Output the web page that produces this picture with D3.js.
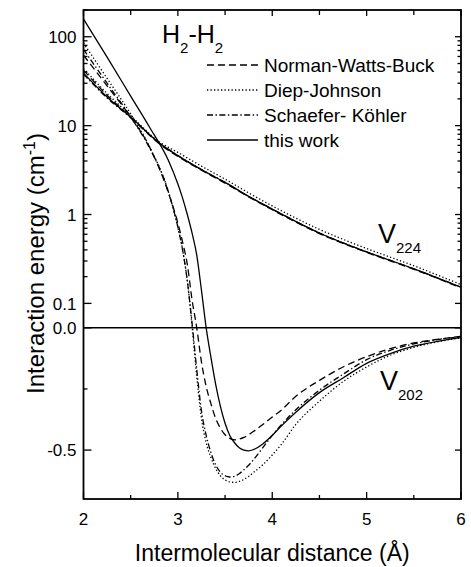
<!DOCTYPE html>
<html>
<head>
<meta charset="utf-8">
<script src="https://cdn.jsdelivr.net/npm/d3@7"></script>
<style>
  body { margin: 0; background: #fff; }
  svg { display: block; font-family: "Liberation Sans", Arial, Helvetica, sans-serif; }
</style>
</head>
<body>
<div id="chart"></div>
<script>
// values (energies in cm-1, distances in Angstrom)
const xTicks = [2, 3, 4, 5, 6];
const xMinorTicks = [2.5, 3.5, 4.5, 5.5];
const yLogTicks = [0.1, 1, 10, 100];
const yLogLabels = ["0.1", "1", "10", "100"];
const yLinTicks = [0, -0.5];
const yLinLabels = ["0.0", "-0.5"];
const yLinMinor = [-0.25];

const legendNames = ["Norman-Watts-Buck", "Diep-Johnson", "Schaefer- Köhler", "this work"];

// V224 anisotropy
const distV224 = [2, 2.25, 2.5, 2.8, 3, 3.25, 3.5, 3.75, 4, 4.5, 5, 5.5, 6];
const v224NWB = [42, 22, 12.5, 6.3, 4.5, 3.15, 2.25, 1.58, 1.13, 0.61, 0.375, 0.242, 0.15];
const v224DJ = [44, 23, 13, 6.6, 5.0, 3.5, 2.5, 1.75, 1.25, 0.68, 0.415, 0.265, 0.163];
const v224SK = [38, 20.5, 12.3, 6.4, 4.6, 3.2, 2.3, 1.6, 1.15, 0.62, 0.38, 0.245, 0.152];
const v224ThisWork = [39, 21, 12.5, 6.4, 4.6, 3.2, 2.3, 1.6, 1.15, 0.62, 0.38, 0.245, 0.152];

// V202 anisotropy
const distV202 = [2, 2.25, 2.5, 2.7, 2.9, 3.0, 3.05, 3.1, 3.15, 3.2, 3.25, 3.3, 3.35, 3.4, 3.45,
  3.5, 3.55, 3.6, 3.65, 3.7, 3.75, 3.8, 3.9, 4.0, 4.1, 4.25, 4.5, 4.75, 5.0, 5.25, 5.5, 5.75, 6.0];
const v202NWB = [62, 28, 12.5, 5.75, 1.75, 0.8, 0.49, 0.275, 0.11, 0.0, -0.14, -0.24, -0.31, -0.37, -0.41,
  -0.437, -0.452, -0.458, -0.455, -0.448, -0.437, -0.424, -0.395, -0.365, -0.335, -0.28, -0.215, -0.16, -0.118, -0.085, -0.062, -0.047, -0.035];
const v202DJ = [85, 34, 13.5, 5.8, 1.8, 0.72, 0.4, 0.18, 0.01, -0.2, -0.37, -0.47, -0.53, -0.575, -0.605,
  -0.622, -0.63, -0.632, -0.628, -0.62, -0.608, -0.592, -0.56, -0.52, -0.475, -0.395, -0.30, -0.22, -0.16, -0.112, -0.08, -0.057, -0.041];
const v202SK = [72, 30, 12.5, 5.6, 1.8, 0.72, 0.4, 0.18, 0.02, -0.17, -0.34, -0.44, -0.51, -0.56, -0.59,
  -0.605, -0.61, -0.607, -0.597, -0.58, -0.562, -0.54, -0.49, -0.44, -0.395, -0.335, -0.255, -0.19, -0.13, -0.092, -0.066, -0.048, -0.036];
const v202ThisWork = [158, 59, 21.5, 9.6, 4.05, 2.2, 1.53, 1.0, 0.62, 0.35, 0.14, 0.0, -0.12, -0.23, -0.32,
  -0.39, -0.44, -0.47, -0.49, -0.5, -0.503, -0.498, -0.475, -0.44, -0.4, -0.345, -0.265, -0.205, -0.145, -0.105, -0.075, -0.055, -0.04];

const width = 471;
const height = 567;
const margin = { top: 10, right: 10, bottom: 68, left: 83.5 };
const innerHeight = height - margin.top - margin.bottom;
const yBreak = margin.top + innerHeight * 0.6; // log part above 0.1, linear below

const x = d3.scaleLinear().domain([2, 6]).range([margin.left, width - margin.right]);
const yLog = d3.scaleLog().domain([0.1, 200]).range([yBreak, margin.top]);
const yLin = d3.scaleLinear().domain([-0.7, 0.1]).range([height - margin.bottom, yBreak]);
const y = (v) => (v > 0.1 ? yLog(v) : yLin(v));

const styles = [
  { dash: "7,4" },          // Norman-Watts-Buck
  { dash: "1.3,2.2" },      // Diep-Johnson
  { dash: "6,2.5,1.4,2.5" },// Schaefer-Kohler
  { dash: null }            // this work
];

const curves = [
  { s: 0, xs: distV224, ys: v224NWB },
  { s: 1, xs: distV224, ys: v224DJ },
  { s: 2, xs: distV224, ys: v224SK },
  { s: 3, xs: distV224, ys: v224ThisWork },
  { s: 0, xs: distV202, ys: v202NWB },
  { s: 1, xs: distV202, ys: v202DJ },
  { s: 2, xs: distV202, ys: v202SK },
  { s: 3, xs: distV202, ys: v202ThisWork }
];

const svg = d3.select("#chart")
  .append("svg")
  .attr("width", width)
  .attr("height", height);

svg.append("clipPath").attr("id", "plot")
  .append("rect")
  .attr("x", x(2)).attr("y", margin.top)
  .attr("width", x(6) - x(2)).attr("height", innerHeight);

// zero line
svg.append("line")
  .attr("x1", x(2)).attr("x2", x(6))
  .attr("y1", y(0)).attr("y2", y(0))
  .attr("stroke", "#000").attr("stroke-width", 1.5);

const line = d3.line()
  .x((d) => x(d[0]))
  .y((d) => y(d[1]))
  .curve(d3.curveMonotoneX);

svg.append("g").attr("clip-path", "url(#plot)")
  .selectAll("path")
  .data(curves)
  .enter()
  .append("path")
  .attr("d", (c) => line(c.xs.map((d, i) => [d, c.ys[i]])))
  .attr("fill", "none")
  .attr("stroke", "#000")
  .attr("stroke-width", 1.3)
  .attr("stroke-dasharray", (c) => styles[c.s].dash);

// frame
svg.append("rect")
  .attr("x", x(2)).attr("y", margin.top)
  .attr("width", x(6) - x(2)).attr("height", innerHeight)
  .attr("fill", "none").attr("stroke", "#000").attr("stroke-width", 1.8);

// y ticks (left and right, pointing inward)
let logMinor = [];
yLogTicks.forEach((t) => {
  for (let m = 2; m <= 9; m++) if (t * m <= 200) logMinor.push(t * m);
});
const yMajor = yLogTicks.concat(yLinTicks).map(y);
const yMinor = logMinor.concat(yLinMinor).map(y);

const ticks = svg.append("g").attr("stroke", "#000").attr("stroke-width", 1.3);
function tickRow(data, x1, x2) {
  ticks.append("g").selectAll("line").data(data).enter().append("line")
    .attr("x1", x1).attr("x2", x2).attr("y1", (d) => d).attr("y2", (d) => d);
}
tickRow(yMajor, x(2), x(2) + 8);
tickRow(yMinor, x(2), x(2) + 4);
tickRow(yMajor, x(6), x(6) - 6);
tickRow(yMinor, x(6), x(6) - 3.5);

function xTickRow(data, y1, y2) {
  ticks.append("g").selectAll("line").data(data).enter().append("line")
    .attr("x1", (d) => x(d)).attr("x2", (d) => x(d)).attr("y1", y1).attr("y2", y2);
}
const yBottom = height - margin.bottom;
xTickRow(xTicks, yBottom, yBottom - 7);
xTickRow(xMinorTicks, yBottom, yBottom - 4);
xTickRow(xTicks, margin.top, margin.top + 6);
xTickRow(xMinorTicks, margin.top, margin.top + 5);

// tick labels
const yLabels = yLogTicks.map((t, i) => ({ v: t, label: yLogLabels[i] }))
  .concat(yLinTicks.map((t, i) => ({ v: t, label: yLinLabels[i] })));

svg.append("g")
  .selectAll("text")
  .data(yLabels)
  .enter()
  .append("text")
  .attr("x", x(2) - 7)
  .attr("y", (d) => y(d.v))
  .attr("dy", "0.36em")
  .attr("text-anchor", "end")
  .style("font-size", "17px")
  .text((d) => d.label);

svg.append("g")
  .selectAll("text")
  .data(xTicks)
  .enter()
  .append("text")
  .attr("x", (d) => x(d))
  .attr("y", yBottom + 26)
  .attr("text-anchor", "middle")
  .style("font-size", "17px")
  .text((d) => d);

// axis titles
svg.append("text")
  .attr("x", (x(2) + x(6)) / 2)
  .attr("y", height - 6)
  .attr("text-anchor", "middle")
  .style("font-size", "23px")
  .text("Intermolecular distance (Å)");

const yTitle = svg.append("text")
  .attr("transform", `translate(44,${(margin.top + yBottom) / 2 + 9}) rotate(-90)`)
  .attr("text-anchor", "middle")
  .style("font-size", "24px");
yTitle.append("tspan").text("Interaction energy (cm");
yTitle.append("tspan").attr("dy", -9).style("font-size", "16px").text("-1");
yTitle.append("tspan").attr("dy", 9).text(")");

// title H2-H2
const title = svg.append("text").attr("x", 162).attr("y", 43).style("font-size", "25px");
title.append("tspan").text("H");
title.append("tspan").attr("dy", 10).style("font-size", "15px").text("2");
title.append("tspan").attr("dy", -10).text("-H");
title.append("tspan").attr("dy", 10).style("font-size", "15px").text("2");

// legend
const legend = svg.append("g")
  .selectAll("g")
  .data(legendNames)
  .enter()
  .append("g")
  .attr("transform", (d, i) => `translate(207,${65 + i * 25})`);

legend.append("line")
  .attr("x1", 0).attr("x2", 51)
  .attr("stroke", "#000").attr("stroke-width", 1.3)
  .attr("stroke-dasharray", (d, i) => styles[i].dash);

legend.append("text")
  .attr("x", 57)
  .attr("dy", "0.36em")
  .style("font-size", "19px")
  .text((d) => d);

// curve labels
function vLabel(px, py, sub) {
  const t = svg.append("text").attr("x", px).attr("y", py).style("font-size", "27px");
  t.append("tspan").text("V");
  t.append("tspan").attr("dy", 10).style("font-size", "15px").text(sub);
}
vLabel(378, 243, "224");
vLabel(380, 390, "202");
</script>
</body>
</html>
